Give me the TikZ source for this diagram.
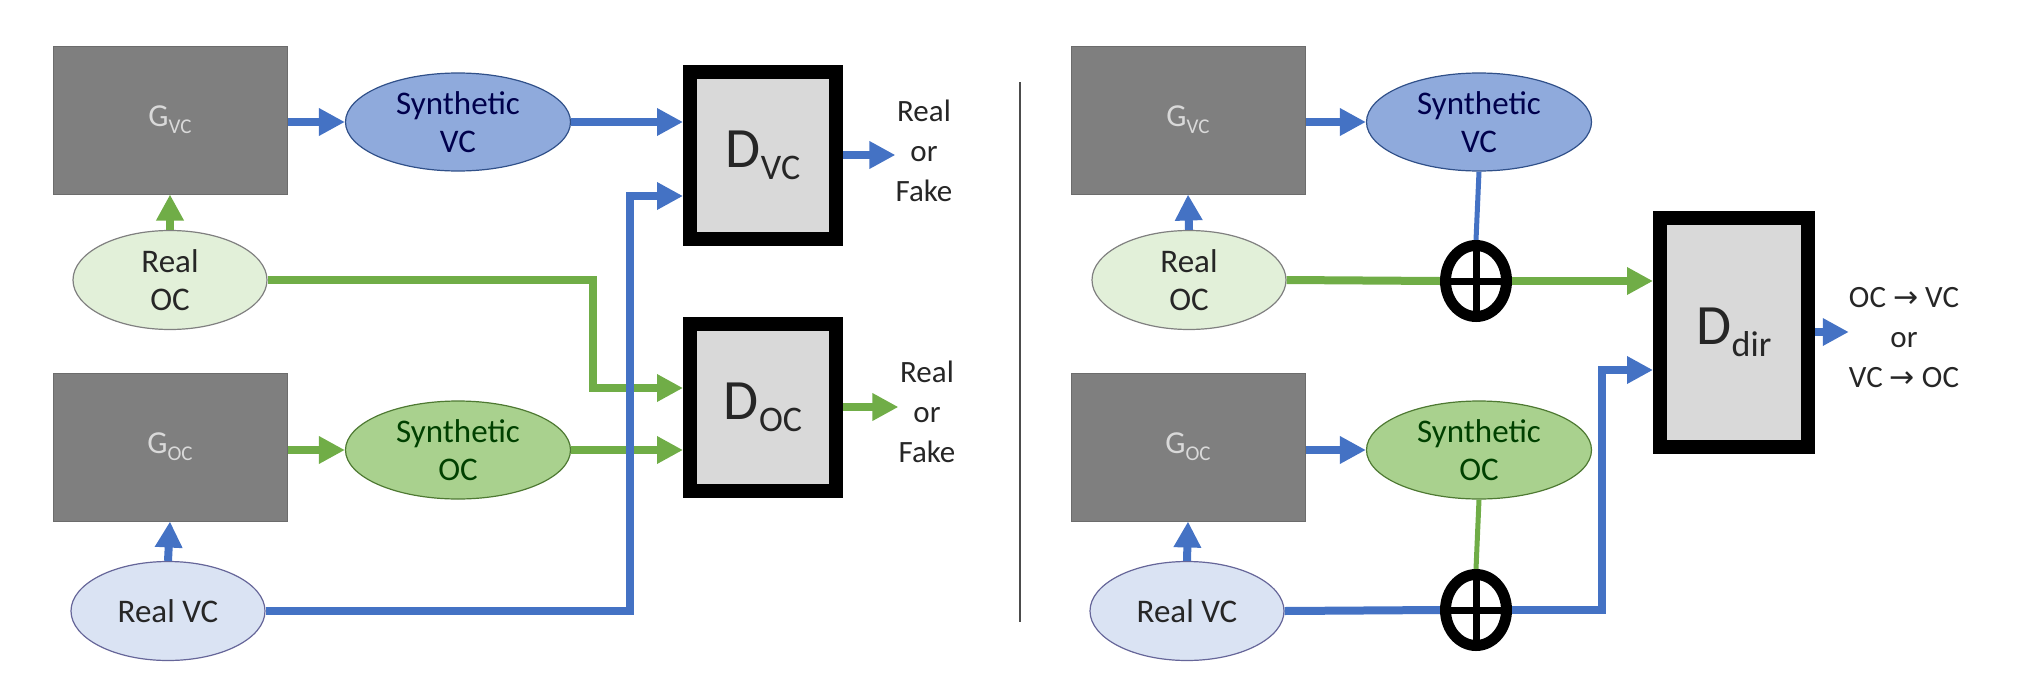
\documentclass[tikz,border=0pt]{standalone}
\usepackage{fontspec}
\setmainfont{Carlito}
\newfontfamily\arrowfont{DejaVu Sans}
\usepackage{xcolor}
\usepackage{tikz}
\usetikzlibrary{arrows.meta,shapes.geometric}

\definecolor{genfill}{HTML}{7F7F7F}
\definecolor{arrblue}{HTML}{4472C4}
\definecolor{arrgreen}{HTML}{70AD47}
\definecolor{synblue}{HTML}{8FAADC}
\definecolor{syngreen}{HTML}{A9D18E}
\definecolor{realgreen}{HTML}{E2F0D9}
\definecolor{realblue}{HTML}{DAE3F3}
\definecolor{discfill}{HTML}{D9D9D9}

\newcommand{\gensub}[1]{{\fontsize{32}{32}\selectfont G\raisebox{-7pt}{\fontsize{21}{21}\selectfont #1}}}
\newcommand{\discsub}[1]{{\fontsize{57}{57}\selectfont D\raisebox{-12pt}{\fontsize{36}{36}\selectfont #1}}}
\newcommand{\ra}{{\arrowfont\fontsize{30}{30}\selectfont →}}

\begin{document}
\begin{tikzpicture}[x=1pt, y=-1pt,
  gen/.style={rectangle, fill=genfill, draw=genfill!85!black, line width=1pt,
    minimum width=234pt, minimum height=148pt, text=white!85!black},
  synvc/.style={ellipse, fill=synblue, draw=arrblue!70!black, line width=1.2pt,
    minimum width=225pt, minimum height=98pt, inner sep=0pt, align=center,
    text=blue!30!black, font=\fontsize{33}{38}\selectfont},
  synoc/.style={synvc, fill=syngreen, draw=arrgreen!70!black, text=green!25!black},
  realoc/.style={ellipse, fill=realgreen, draw=gray, line width=1.2pt,
    minimum width=194pt, minimum height=99pt, inner sep=0pt, align=center,
    text=black!85, font=\fontsize{33}{38}\selectfont},
  realvc/.style={realoc, fill=realblue, draw=gray!80!blue},
  disc/.style={rectangle, fill=discfill, draw=black, line width=14pt,
    minimum width=146pt, minimum height=167pt, text=black!85},
  outtxt/.style={inner sep=0pt, align=center, text=black!85,
    font=\fontsize{31}{40}\selectfont},
  oplus/.style={ellipse, fill=white, draw=black, line width=11pt,
    minimum width=61pt, minimum height=71pt, inner sep=0pt},
  barr/.style={draw=arrblue, line width=8pt, -{Triangle[length=26pt,width=26pt]}},
  garr/.style={draw=arrgreen, line width=8pt, -{Triangle[length=26pt,width=26pt]}}]
\useasboundingbox (0,0) rectangle (2020,680);

\node[gen] (gvc) at (170,120) {\gensub{VC}};
\node[synvc] (svc) at (458,122) {Synthetic\\VC};
\node[disc] (dvc) at (763,155) {\discsub{VC}};
\node[outtxt] (rf1) at (924,151) {Real\\or\\Fake};
\node[realoc] (roc) at (170,280) {Real\\OC};
\node[gen] (goc) at (170,447) {\gensub{OC}};
\node[synoc] (soc) at (458,450) {Synthetic\\OC};
\node[disc] (doc) at (763,407) {\discsub{OC}};
\node[outtxt] (rf2) at (927,412) {Real\\or\\Fake};
\node[realvc] (rvc) at (168,611) {Real VC};
\coordinate (c1) at (593,388);
\coordinate (c2) at (630,196);

\draw[barr] (gvc.east |- svc) -- (svc.west);
\draw[barr] (svc.east) -- (svc.east -| dvc.west);
\draw[barr] (dvc.east) -- (dvc.east -| rf1.west);
\draw[garr] (roc.north) -- (gvc.south);
\draw[garr] (roc.east) -| (c1) -- (c1 -| doc.west);
\draw[garr] (goc.east |- soc) -- (soc.west);
\draw[garr] (soc.east) -- (soc.east -| doc.west);
\draw[garr] (doc.east) -- (doc.east -| rf2.west);
\draw[barr] (rvc.north) -- (goc.south);
\draw[barr] (rvc.east) -| (c2) -- (c2 -| dvc.west);

\draw[line width=2pt, black!70] (1020,82) -- (1020,622);

\node[gen] (gvc2) at (1188,120) {\gensub{VC}};
\node[synvc] (svc2) at (1479,122) {Synthetic\\VC};
\node[realoc] (roc2) at (1189,280) {Real\\OC};
\node[oplus] (sum1) at (1476,281) {};
\node[disc, minimum width=148pt, minimum height=229pt] (ddir) at (1734,332) {\discsub{dir}};
\node[outtxt] (dirtxt) at (1904,338) {OC \ra{} VC\\or\\VC \ra{} OC};
\node[gen] (goc2) at (1188,447) {\gensub{OC}};
\node[synoc] (soc2) at (1479,450) {Synthetic\\OC};
\node[realvc] (rvc2) at (1187,611) {Real VC};
\node[oplus] (sum2) at (1476,610) {};
\coordinate (c3) at (1602,370);

\draw[barr] (gvc2.east |- svc2) -- (svc2.west);
\draw[barr] (roc2.north) -- (gvc2.south);
\draw[arrblue, line width=5pt] (svc2.south) -- (sum1.north);
\draw[arrgreen, line width=8pt] (roc2.east) -- (sum1.west);
\draw[garr] (sum1.east) -- (sum1.east -| ddir.west);
\draw[line width=7pt] (sum1.north) -- (sum1.south) (sum1.west) -- (sum1.east);
\draw[barr] (ddir.east) -- (ddir.east -| dirtxt.west);
\draw[barr] (gvc2.east |- soc2) -- (soc2.west);
\draw[barr] (rvc2.north) -- (goc2.south);
\draw[arrgreen, line width=5pt] (soc2.south) -- (sum2.north);
\draw[arrblue, line width=8pt] (rvc2.east) -- (sum2.west);
\draw[barr] (sum2.east) -| (c3) -- (c3 -| ddir.west);
\draw[line width=7pt] (sum2.north) -- (sum2.south) (sum2.west) -- (sum2.east);
\end{tikzpicture}
\end{document}
